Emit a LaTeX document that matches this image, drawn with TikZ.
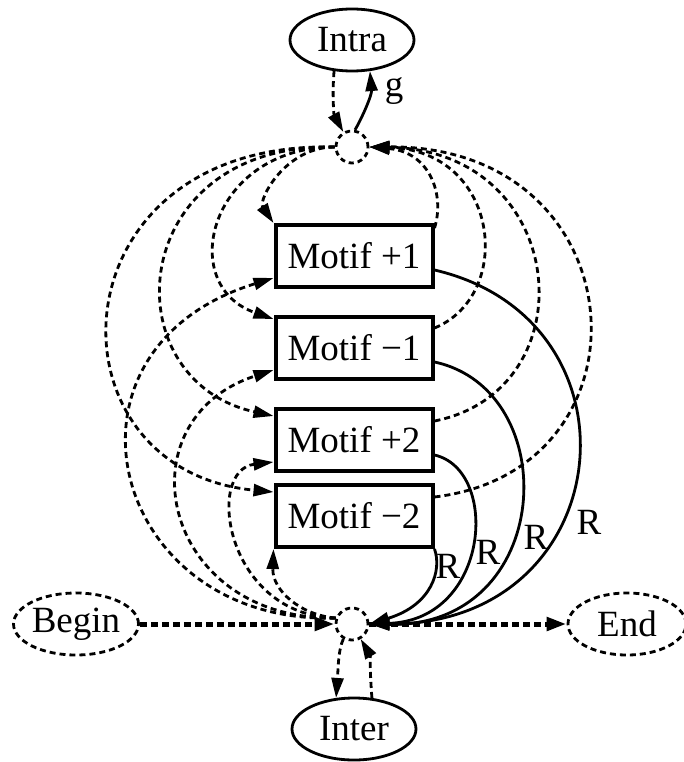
\documentclass[tikz,border=0pt]{standalone}
\usepackage{fontspec}
\setmainfont{Liberation Serif}
\usetikzlibrary{arrows.meta,shapes.geometric}

\begin{document}
\begin{tikzpicture}[x=1pt,y=-1pt,
  every node/.style={font=\fontsize{37}{42}\selectfont},
  motif/.style={draw, line width=4pt, minimum width=157pt, minimum height=62pt, inner sep=0pt},
  state/.style={draw, ellipse, line width=2.8pt, minimum width=124pt, minimum height=62pt, inner sep=0pt},
  dstate/.style={state, dash pattern=on 6pt off 4pt},
  hub/.style={draw, circle, line width=2.8pt, dash pattern=on 5pt off 4pt, minimum size=32pt, inner sep=0pt},
  edge/.style={line width=2.8pt, -{Triangle[length=20pt,width=12pt]}},
  dedge/.style={edge, dash pattern=on 6pt off 4pt},
  bedge/.style={line width=5pt, dash pattern=on 7pt off 4pt, -{Triangle[length=20pt,width=13pt]}},
  lbl/.style={inner sep=0pt},
]
\useasboundingbox (0,0) rectangle (683,762);

% states
\node[state]  (intra) at (352,40)  {Intra};
\node[state]  (inter) at (354,729) {Inter};
\node[dstate] (begin) at (76,624)  {Begin};
\node[dstate, minimum width=118pt] (end) at (627,624) {End};

% hubs
\node[hub] (top) at (352,147) {};
\node[hub] (bot) at (352,624) {};

% motif boxes
\node[motif] (m1) at (354,256) {Motif +1};
\node[motif] (m2) at (354,348) {Motif −1};
\node[motif] (m3) at (354,440) {Motif +2};
\node[motif] (m4) at (354,516) {Motif −2};

% intra loop
\draw[dedge] (intra.-120) .. controls (332,95) and (334,115) .. (top.120);
\draw[edge]  (top.80) .. controls (362,118) and (372,95) .. (intra.-60);
\node[lbl] (g) at (394,91) {g};

% inter loop
\draw[dedge] (bot.-120) .. controls (338,650) and (338,672) .. (inter.120);
\draw[dedge] (inter.60) .. controls (370,675) and (370,655) .. (bot.-60);

% begin / end
\draw[bedge] (begin.east) -- (bot.west);
\draw[bedge] (bot.east) -- (end.west);

% top hub to motifs (left side)
\draw[dedge] (top.west) .. controls (285,147) and (258,200) .. (m1.north west);
\draw[dedge] (top.west) .. controls (210,147) and (175,285) .. ([yshift=-4pt]m2.north west);
\draw[dedge] (top.west) .. controls (125,143) and (110,380) .. ([yshift=-9pt]m3.north west);
\draw[dedge] (top.west) .. controls (50,140) and (40,470) .. ([yshift=-9pt]m4.north west);

% bottom hub to motifs (left side)
\draw[dedge] (bot.160) .. controls (110,625) and (40,350) .. ([yshift=11pt]m1.south west);
\draw[dedge] (bot.160) .. controls (160,620) and (120,420) .. ([yshift=11pt]m2.south west);
\draw[dedge] (bot.160) .. controls (225,615) and (205,470) .. ([yshift=11pt]m3.south west);
\draw[dedge] (bot.160) .. controls (300,615) and (272,590) .. (m4.south west);

% motifs back to top hub (right side)
\draw[dedge] ([yshift=-5pt]m1.north east) .. controls (445,195) and (430,152) .. (top.east);
\draw[dedge] ([yshift=-13pt]m2.north east) .. controls (515,295) and (500,150) .. (top.east);
\draw[dedge] ([yshift=-14pt]m3.north east) .. controls (590,390) and (570,150) .. (top.east);
\draw[dedge] ([yshift=-14pt]m4.north east) .. controls (660,470) and (640,145) .. (top.east);

% motifs to bottom hub (R transitions)
\draw[edge] ([yshift=-14pt]m1.east) .. controls (650,320) and (620,625) .. (bot.east);
\draw[edge] ([yshift=-14pt]m2.east) .. controls (565,390) and (555,628) .. (bot.east);
\draw[edge] ([yshift=-15pt]m3.east) .. controls (500,470) and (490,620) .. (bot.east);
\draw[edge] (m4.south east) .. controls (442,570) and (432,605) .. (bot.east);

\node[lbl] (r1) at (589,522) {R};
\node[lbl] (r2) at (536,537) {R};
\node[lbl] (r3) at (488,552) {R};
\node[lbl] (r4) at (448,566) {R};
\end{tikzpicture}
\end{document}
